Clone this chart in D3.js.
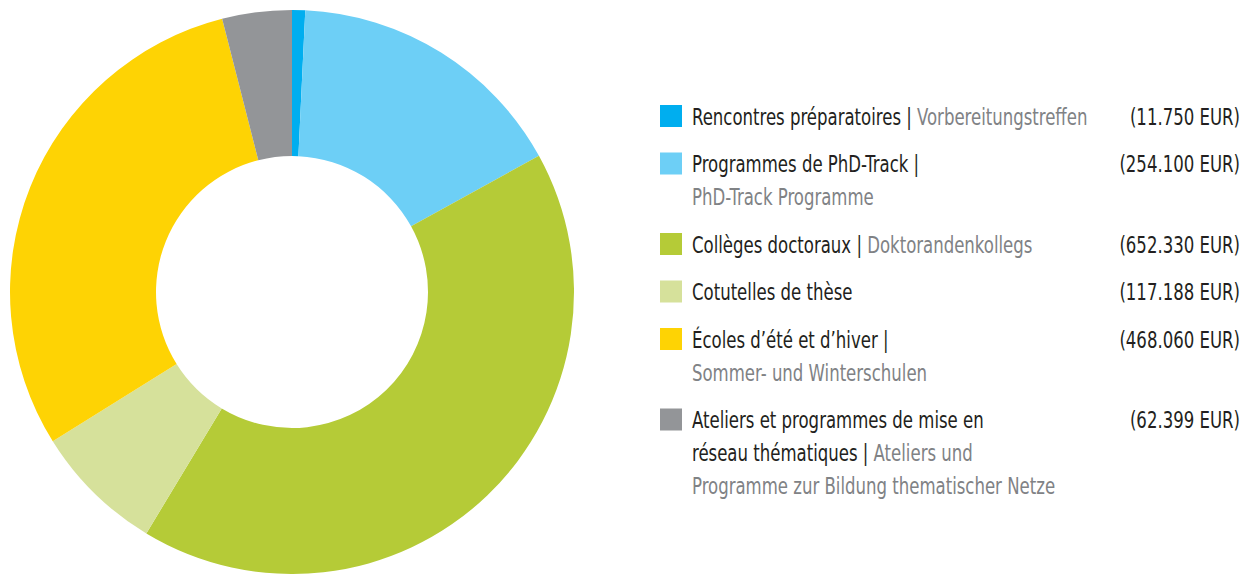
<!DOCTYPE html>
<html><head><meta charset="utf-8">
<script src="https://cdn.jsdelivr.net/npm/d3@7"></script>
<style>
html,body{margin:0;padding:0;background:#fff;}
svg{display:block;}
text{font-family:"DejaVu Sans Condensed","Liberation Sans Narrow","Arial Narrow",sans-serif;}
</style></head>
<body>
<svg id="chart" width="1258" height="574"></svg>
<script>
// Data
const categoriesFr = ["Rencontres préparatoires", "Programmes de PhD-Track", "Collèges doctoraux", "Cotutelles de thèse", "Écoles d’été et d’hiver", "Ateliers et programmes de mise en réseau thématiques"];
const categoriesDe = ["Vorbereitungstreffen", "PhD-Track Programme", "Doktorandenkollegs", "", "Sommer- und Winterschulen", "Ateliers und Programme zur Bildung thematischer Netze"];
const values = [11750, 254100, 652330, 117188, 468060, 62399];
const colors = ["#00aeef", "#6dcff6", "#b5cb37", "#d6e19b", "#fed304", "#939598"];
// legend line breaks as displayed: each line is a list of [text, language]
const legendLines = [
  [[["Rencontres préparatoires | ", "fr"], ["Vorbereitungstreffen", "de"]]],
  [[["Programmes de PhD-Track |", "fr"]], [["PhD-Track Programme", "de"]]],
  [[["Collèges doctoraux | ", "fr"], ["Doktorandenkollegs", "de"]]],
  [[["Cotutelles de thèse", "fr"]]],
  [[["Écoles d’été et d’hiver |", "fr"]], [["Sommer- und Winterschulen", "de"]]],
  [[["Ateliers et programmes de mise en", "fr"]], [["réseau thématiques | ", "fr"], ["Ateliers und", "de"]], [["Programme zur Bildung thematischer Netze", "de"]]]
];

const svg = d3.select("#chart");
const cx = 292, cy = 292, outerR = 282, innerR = 136;

const pie = d3.pie().sort(null).value(d => d);
const arc = d3.arc().innerRadius(innerR).outerRadius(outerR);

svg.append("g").attr("transform", `translate(${cx},${cy})`)
  .selectAll("path").data(pie(values)).join("path")
  .attr("d", arc).attr("fill", (d, i) => colors[i]);

const loc = d3.formatLocale({decimal: ",", thousands: ".", grouping: [3], currency: ["", ""]});
const fmt = loc.format(",d");

const lg = svg.append("g");
const fontSize = 23, sx = 0.8, lineH = 33, rowGap = 47.5;
const textColor = {fr: "#231f20", de: "#808285"};
let y = 116;
legendLines.forEach((lines, i) => {
  const row = lg.append("g").attr("transform", `translate(0,${y})`);
  row.append("rect").attr("x", 660).attr("y", -11).attr("width", 22).attr("height", 22).attr("fill", colors[i]);
  lines.forEach((segs, li) => {
    const t = row.append("text")
      .attr("transform", `translate(692,${li * lineH + 8.5}) scale(${sx},1)`)
      .attr("font-size", fontSize);
    segs.forEach(([s, lang]) => t.append("tspan").attr("fill", textColor[lang]).text(s));
  });
  row.append("text")
    .attr("transform", `translate(1240,8.5) scale(${sx},1)`)
    .attr("text-anchor", "end")
    .attr("font-size", fontSize).attr("fill", textColor.fr)
    .text(`(${fmt(values[i])} EUR)`);
  y += (lines.length - 1) * lineH + rowGap;
});
</script>
</body></html>
